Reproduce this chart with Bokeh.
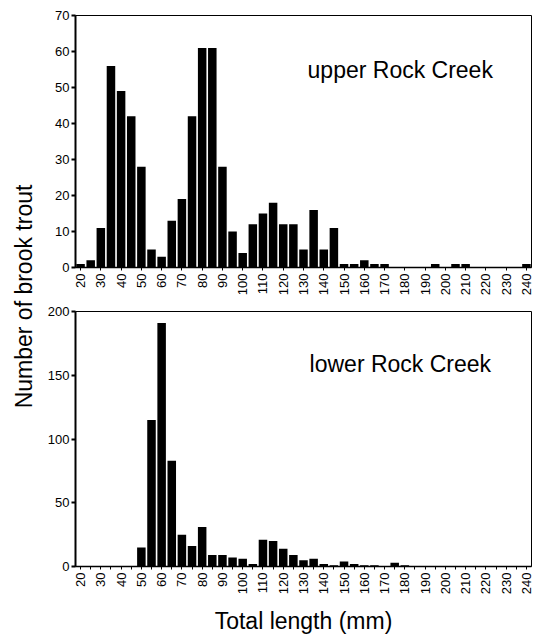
import math
from bokeh.plotting import figure
from bokeh.layouts import row, column
from bokeh.models import FixedTicker, Label, Range1d
from bokeh.embed import file_html
from bokeh.resources import INLINE

# ---- data -------------------------------------------------------------
lengths_mm = [20, 25, 30, 35, 40, 45, 50, 55, 60, 65, 70, 75, 80, 85, 90,
              95, 100, 105, 110, 115, 120, 125, 130, 135, 140, 145, 150,
              155, 160, 165, 170, 175, 180, 185, 190, 195, 200, 205, 210,
              215, 220, 225, 230, 235, 240]

upper_counts = [1, 2, 11, 56, 49, 42, 28, 5, 3, 13, 19, 42, 61, 61, 28,
                10, 4, 12, 15, 18, 12, 12, 5, 16, 5, 11, 1,
                1, 2, 1, 1, 0, 0, 0, 0, 1, 0, 1, 1,
                0, 0, 0, 0, 0, 1]

lower_counts = [0, 0, 0, 0, 0, 0, 15, 115, 191, 83, 25, 16, 31, 9, 9,
                7, 6, 2, 21, 20, 14, 9, 5, 6, 2, 1, 4,
                2, 1, 1, 0, 3, 1, 0, 0, 0, 0, 0, 0,
                0, 0, 0, 0, 0, 0]

x_tick_values = [20, 30, 40, 50, 60, 70, 80, 90, 100, 110, 120, 130, 140,
                 150, 160, 170, 180, 190, 200, 210, 220, 230, 240]
x_minor_values = [25, 35, 45, 55, 65, 75, 85, 95, 105, 115, 125, 135, 145,
                  155, 165, 175, 185, 195, 205, 215, 225, 235]
upper_y_ticks = [0, 10, 20, 30, 40, 50, 60, 70]
lower_y_ticks = [0, 50, 100, 150, 200]

upper_title = "upper Rock Creek"
lower_title = "lower Rock Creek"
y_title = "Number of brook trout"
x_title = "Total length (mm)"

FONT = "Liberation Sans"


def make_panel(counts, ymax, yticks, height, b_top, b_bottom, minor=False):
    p = figure(width=498, height=height,
               x_range=Range1d(17.5, 242.5), y_range=Range1d(0, ymax),
               output_backend="svg", toolbar_location=None,
               min_border_left=40, min_border_right=2,
               min_border_top=b_top, min_border_bottom=b_bottom)
    p.vbar(x=lengths_mm, top=counts, bottom=0, width=4.2,
           fill_color="black", line_color=None)
    p.grid.visible = False
    p.outline_line_color = "black"
    p.outline_line_width = 1
    p.background_fill_color = "white"
    p.border_fill_color = "white"

    xa = p.xaxis[0]
    xa.ticker = FixedTicker(ticks=x_tick_values,
                            minor_ticks=x_minor_values if minor else [])
    xa.major_label_orientation = math.pi / 2
    xa.major_label_text_font = FONT
    xa.major_label_text_font_size = "13px"
    xa.major_label_text_color = "black"
    xa.major_label_standoff = 3
    xa.major_tick_in = 0
    xa.major_tick_out = 3
    xa.major_tick_line_color = "black"
    xa.minor_tick_in = 0
    xa.minor_tick_out = 3 if minor else 0
    xa.minor_tick_line_color = "black" if minor else None
    xa.axis_line_color = "black"
    xa.axis_line_width = 1.5

    ya = p.yaxis[0]
    ya.ticker = FixedTicker(ticks=yticks)
    ya.major_label_text_font = FONT
    ya.major_label_text_font_size = "13px"
    ya.major_label_text_color = "black"
    ya.major_label_standoff = 2
    ya.major_tick_in = 0
    ya.major_tick_out = 4
    ya.major_tick_line_width = 2
    ya.major_tick_line_color = "black"
    ya.minor_tick_line_color = None
    ya.axis_line_color = "black"
    ya.axis_line_width = 2
    return p


top = make_panel(upper_counts, 70, upper_y_ticks, 305, 15, 38)
top.add_layout(Label(x=132, y=54.8, text=upper_title,
                     text_font=FONT, text_font_size="23px",
                     text_color="black", text_baseline="middle",
                     text_align="left"))

bottom = make_panel(lower_counts, 200, lower_y_ticks, 332, 6, 70, minor=True)
bottom.add_layout(Label(x=133, y=159.0, text=lower_title,
                        text_font=FONT, text_font_size="23px",
                        text_color="black", text_baseline="middle",
                        text_align="left"))
bottom.xaxis.axis_label = x_title
bottom.xaxis.axis_label_text_font = FONT
bottom.xaxis.axis_label_text_font_size = "23px"
bottom.xaxis.axis_label_text_font_style = "normal"
bottom.xaxis.axis_label_text_color = "black"
bottom.xaxis.axis_label_standoff = 11

strip = figure(width=35, height=637, output_backend="svg",
               toolbar_location=None, min_border=0,
               x_range=Range1d(0, 1), y_range=Range1d(0, 1))
strip.axis.visible = False
strip.grid.visible = False
strip.outline_line_color = None
strip.add_layout(Label(x=23, y=341, x_units="screen", y_units="screen",
                       text=y_title, angle=math.pi / 2,
                       text_font=FONT, text_font_size="23px",
                       text_color="black", text_align="center",
                       text_baseline="middle"))

layout = row(strip, column(top, bottom))

open("out.html", "w").write(file_html(layout, INLINE))
